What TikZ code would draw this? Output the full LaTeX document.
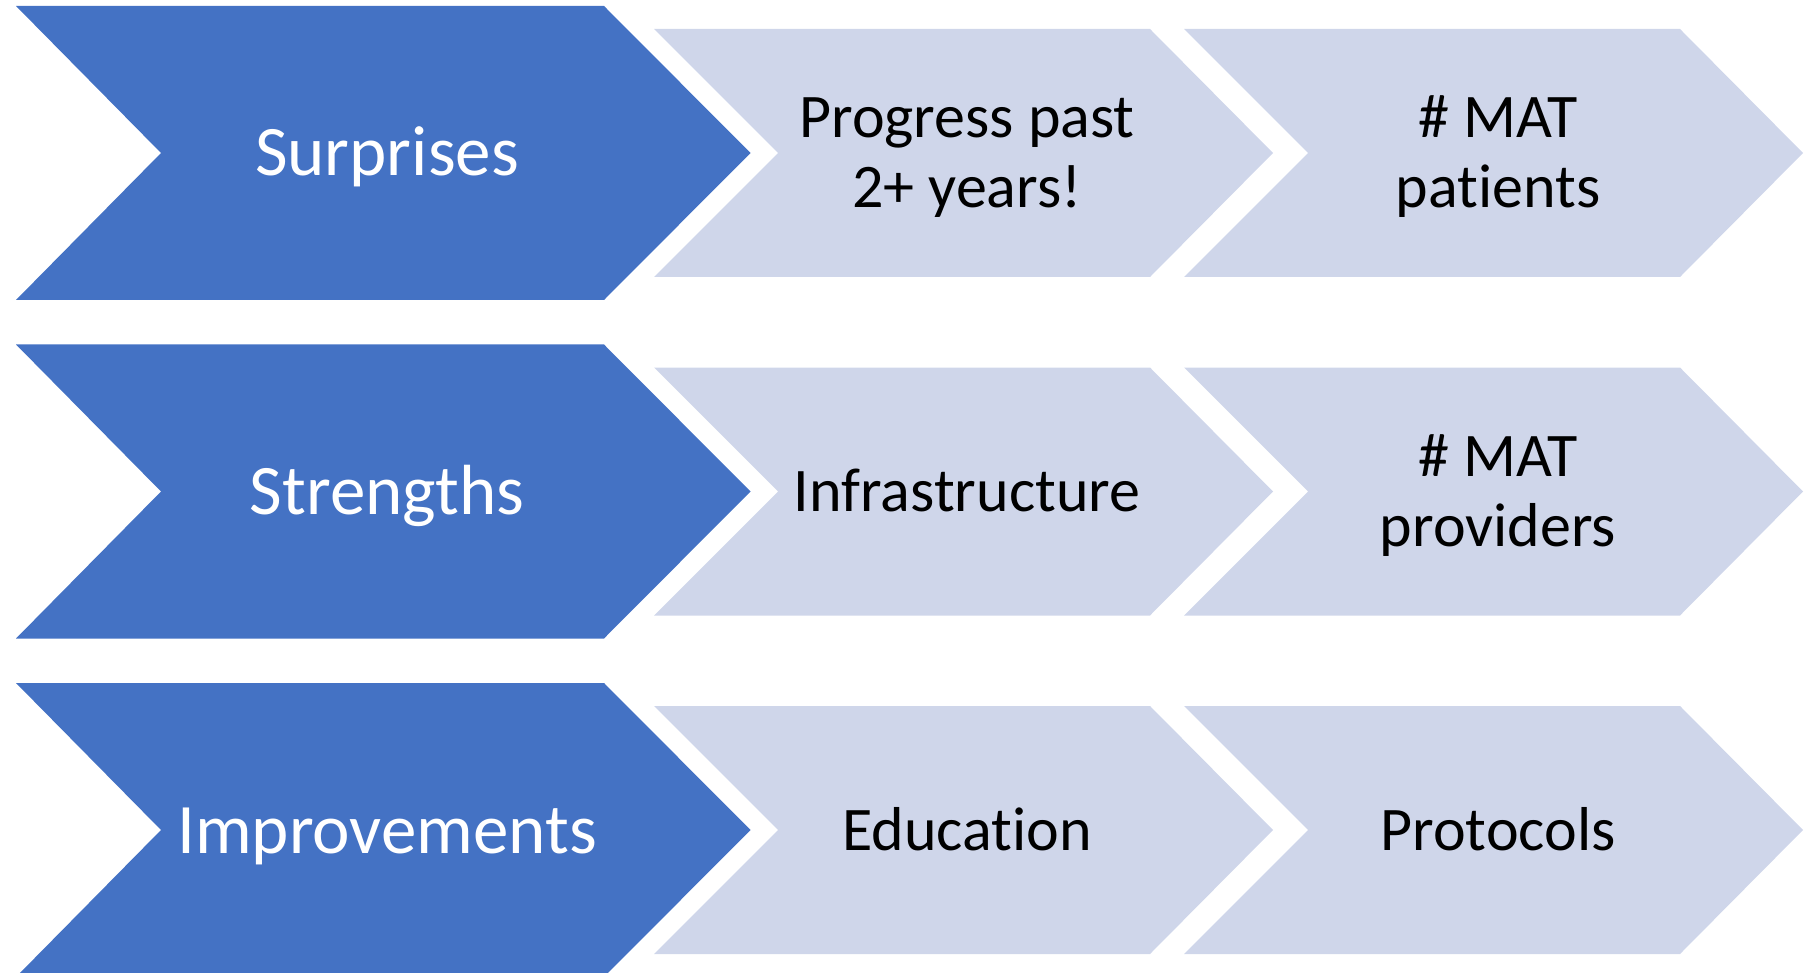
\documentclass[tikz,border=0pt]{standalone}
\usepackage{fontspec}
\setmainfont{Carlito}[Ligatures=NoCommon]
\usetikzlibrary{positioning}

\definecolor{chevblue}{HTML}{4472C4}
\definecolor{chevgrey}{HTML}{CFD6EA}

\tikzset{
    headtext/.style = {text=white, inner sep=0pt, anchor=base,
        font=\fontsize{35.5pt}{40pt}\selectfont},
    itemtext/.style = {text=black, inner sep=0pt, anchor=base, align=center,
        font=\fontsize{31pt}{35pt}\selectfont},
}

\begin{document}
\begin{tikzpicture}[x=0.5pt, y=-0.5pt]
    \useasboundingbox (0,0) rectangle (1805,973);
    \clip (0,0) rectangle (1805,973);
    % chevrons, one row each
    \foreach \cy in {153, 491.5, 830} {
        \fill[chevblue] (16,\cy-147) -- (604,\cy-147) -- (750.5,\cy)
            -- (604,\cy+147) -- (16,\cy+147) -- (161,\cy) -- cycle;
        \foreach \dx in {0, 530}
            \fill[chevgrey] (654+\dx,\cy-124) -- (1150+\dx,\cy-124) -- (1273+\dx,\cy)
                -- (1150+\dx,\cy+124) -- (654+\dx,\cy+124) -- (778+\dx,\cy) -- cycle;
    }
    % labels (two-line ones sit on their last baseline)
    \node[headtext] (surp) at (387,176) {Surprises};
    \node[itemtext] (prog) at (967,208) {Progress past\\2+ years!};
    \node[itemtext] (matpat) at (1498,208) {\# MAT\\patients};
    \node[headtext] (strg) at (387,514.5) {Strengths};
    \node[itemtext] (infra) at (967,511.5) {Infrastructure};
    \node[itemtext] (matprov) at (1498,546.5) {\# MAT\\providers};
    \node[headtext] (impr) at (387,853) {Improvements};
    \node[itemtext] (educ) at (967,850) {Education};
    \node[itemtext] (prot) at (1498,850) {Protocols};
\end{tikzpicture}
\end{document}
